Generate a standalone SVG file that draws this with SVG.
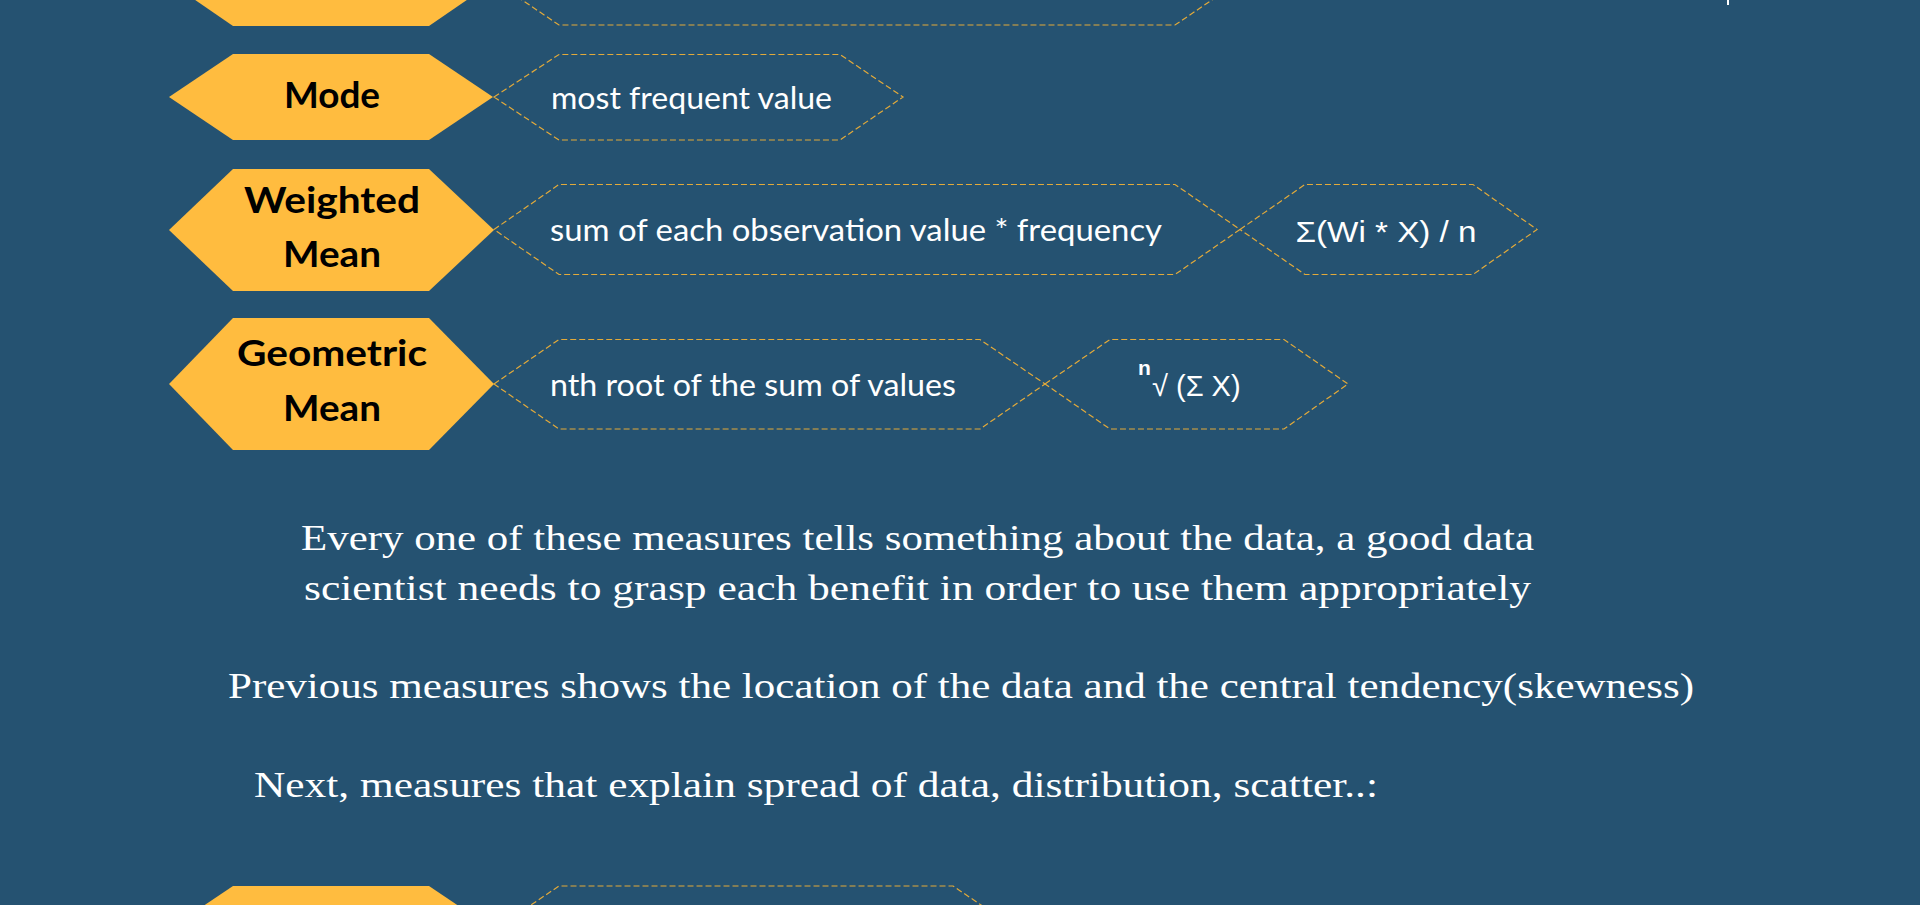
<svg xmlns="http://www.w3.org/2000/svg" width="1920" height="905" viewBox="0 0 1920 905">
<style>
.bg{fill:#255271}
.tag{fill:#FFBC3F}
.box{fill:none;stroke:#E3AA3A;stroke-width:1.2;stroke-dasharray:6 3}
.title{font-family:Lato,"Noto Sans",sans-serif;font-weight:700;font-size:37px;fill:#000;text-anchor:middle}
.desc{font-family:Lato,"Noto Sans",sans-serif;font-size:30px;fill:#fff}
.formula{font-family:"Liberation Sans",Arial,sans-serif;font-size:29px;fill:#fff}
.para{font-family:"Liberation Serif","Times New Roman",serif;font-size:36px;fill:#fff}
</style>
<rect class="bg" x="0" y="0" width="1920" height="905"/>

<g id="node-top">
<polygon class="tag" points="169,-18 233,-62 429,-62 493,-18 429,26 233,26"/>
<polygon class="box" points="494,-19 559,-63 1175,-63 1240,-19 1175,25 559,25"/>
<rect x="1727" y="0" width="2" height="5" fill="#fff"/>
</g>

<g id="node-mode">
<polygon class="tag" points="169,97 233,54 429,54 493,97 429,140 233,140"/>
<text class="title" x="332" y="108" textLength="96" lengthAdjust="spacingAndGlyphs">Mode</text>
</g>
<g id="node-mode-desc">
<polygon class="box" points="494,97 559,54.5 840,54.5 903,97 840,140 559,140"/>
<text class="desc" x="551" y="109" textLength="281" lengthAdjust="spacingAndGlyphs">most frequent value</text>
</g>

<g id="node-weighted">
<polygon class="tag" points="169,230 233,169 429,169 494,230 429,291 233,291"/>
<text class="title" x="332" y="212.5" textLength="176" lengthAdjust="spacingAndGlyphs">Weighted</text>
<text class="title" x="332" y="267" textLength="98" lengthAdjust="spacingAndGlyphs">Mean</text>
</g>
<g id="node-weighted-desc">
<polygon class="box" points="494,229.5 559,184.5 1175,184.5 1240,229.5 1175,274.5 559,274.5"/>
<text class="desc" x="550" y="241" textLength="612" lengthAdjust="spacingAndGlyphs">sum of each observation value * frequency</text>
</g>
<g id="node-weighted-formula">
<polygon class="box" points="1240,229.5 1305,184.5 1473,184.5 1537,229.5 1473,274.5 1305,274.5"/>
<text class="formula" x="1295.5" y="241.5" textLength="181" lengthAdjust="spacingAndGlyphs">Σ(Wi * X) / n</text>
</g>

<g id="node-geometric">
<polygon class="tag" points="169,384 233,318 429,318 494,384 429,450 233,450"/>
<text class="title" x="332" y="366" textLength="190" lengthAdjust="spacingAndGlyphs">Geometric</text>
<text class="title" x="332" y="421" textLength="98" lengthAdjust="spacingAndGlyphs">Mean</text>
</g>
<g id="node-geometric-desc">
<polygon class="box" points="494,384 559,339.5 980,339.5 1045,384 980,429 559,429"/>
<text class="desc" x="550" y="396" textLength="406" lengthAdjust="spacingAndGlyphs">nth root of the sum of values</text>
</g>
<g id="node-geometric-formula">
<polygon class="box" points="1045,384 1110,339.5 1284,339.5 1348,384 1284,429 1110,429"/>
<text class="formula" x="1138" y="375"><tspan font-weight="700" font-size="21">n</tspan><tspan x="1152" y="396">√ (Σ X)</tspan></text>
</g>

<g id="paragraphs">
<text class="para" x="301" y="550" textLength="1233" lengthAdjust="spacingAndGlyphs">Every one of these measures tells something about the data, a good data</text>
<text class="para" x="304" y="600" textLength="1227" lengthAdjust="spacingAndGlyphs">scientist needs to grasp each benefit in order to use them appropriately</text>
<text class="para" x="228" y="698" textLength="1466" lengthAdjust="spacingAndGlyphs">Previous measures shows the location of the data and the central tendency(skewness)</text>
<text class="para" x="254" y="797" textLength="1124" lengthAdjust="spacingAndGlyphs">Next, measures that explain spread of data, distribution, scatter..:</text>
</g>

<g id="node-bottom">
<polygon class="tag" points="169,929 233,886 429,886 493,929 429,972 233,972"/>
<polygon class="box" points="494,930 559,886 953,886 1018,930 953,974 559,974"/>
</g>

<g id="connectors"></g>
</svg>
